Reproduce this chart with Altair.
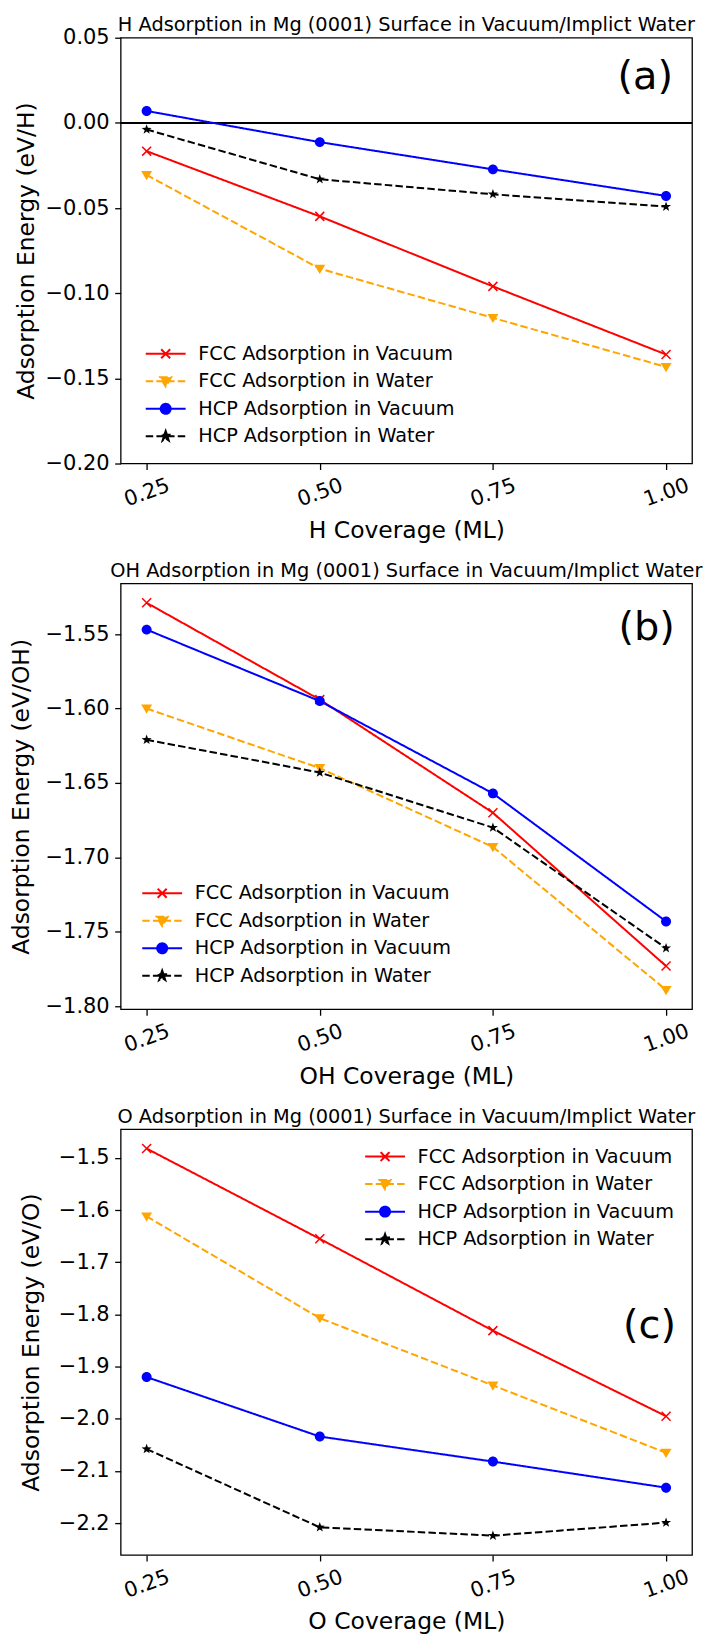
import math
import altair as alt
import pandas as pd

# ---------------- data ----------------
coverage = [0.25, 0.50, 0.75, 1.00]
series_names = [
    "FCC Adsorption in Vacuum",
    "FCC Adsorption in Water",
    "HCP Adsorption in Vacuum",
    "HCP Adsorption in Water",
]
series_colors = ["#ff0000", "#ffa500", "#0000ff", "#000000"]

# (a) H adsorption (eV/H)
h_fcc_vac = [-0.0166, -0.0549, -0.0960, -0.1360]
h_fcc_wat = [-0.0306, -0.0856, -0.1145, -0.1433]
h_hcp_vac = [0.0070, -0.0113, -0.0273, -0.0429]
h_hcp_wat = [-0.0039, -0.0331, -0.0419, -0.0492]

# (b) OH adsorption (eV/OH)
oh_fcc_vac = [-1.529, -1.594, -1.670, -1.773]
oh_fcc_wat = [-1.600, -1.640, -1.693, -1.789]
oh_hcp_vac = [-1.547, -1.595, -1.657, -1.743]
oh_hcp_wat = [-1.621, -1.643, -1.680, -1.761]

# (c) O adsorption (eV/O)
o_fcc_vac = [-1.482, -1.655, -1.831, -1.995]
o_fcc_wat = [-1.612, -1.807, -1.936, -2.065]
o_hcp_vac = [-1.920, -2.034, -2.082, -2.132]
o_hcp_wat = [-2.058, -2.208, -2.224, -2.199]

panel_titles = [
    "H Adsorption in Mg (0001) Surface in Vacuum/Implict Water",
    "OH Adsorption in Mg (0001) Surface in Vacuum/Implict Water",
    "O Adsorption in Mg (0001) Surface in Vacuum/Implict Water",
]
x_titles = ["H Coverage (ML)", "OH Coverage (ML)", "O Coverage (ML)"]
y_titles = ["Adsorption Energy (eV/H)", "Adsorption Energy (eV/OH)", "Adsorption Energy (eV/O)"]
panel_tags = ["(a)", "(b)", "(c)"]
tag_x = [0.970, 0.972, 0.976]
tag_y = [0.027, -1.546, -1.822]

y_ticks_a = [-0.20, -0.15, -0.10, -0.05, 0.00, 0.05]
y_ticks_b = [-1.80, -1.75, -1.70, -1.65, -1.60, -1.55]
y_ticks_c = [-2.2, -2.1, -2.0, -1.9, -1.8, -1.7, -1.6, -1.5]
x_ticks = [0.25, 0.50, 0.75, 1.00]

# ---------------- styles ----------------
FONT = "DejaVu Sans"
W, H = 573, 427
DASHED = [7.5, 3.2]
dash_list = [[1, 0], DASHED, [1, 0], DASHED]

X_PATH = "M-0.9,-0.9L0.9,0.9M-0.9,0.9L0.9,-0.9"
TRI_PATH = "M-1.1,-0.8L1.1,-0.8L0,1.05Z"
CIRC_PATH = "M1,0A1,1,0,1,1,-1,0A1,1,0,1,1,1,0Z"
pts = []
for k in range(10):
    r = 1.05 if k % 2 == 0 else 0.42
    a = math.radians(-90 + 36 * k)
    pts.append(f"{r*math.cos(a):.3f},{r*math.sin(a):.3f}")
STAR_PATH = "M" + "L".join(pts) + "Z"
marker_paths = [X_PATH, TRI_PATH, CIRC_PATH, STAR_PATH]
marker_filled = [False, True, True, True]
LINE_PATH = "M-4,0L4,0"
legend_paths = [LINE_PATH + p for p in marker_paths]


def xdomain():
    span = x_ticks[-1] - x_ticks[0]
    return [x_ticks[0] - 0.05 * span, x_ticks[-1] + 0.05 * span]


def auto_domain(vals):
    flat = [v for s in vals for v in s]
    lo, hi = min(flat), max(flat)
    m = 0.05 * (hi - lo)
    return [lo - m, hi + m]


def panel(vals, idx, ydom, yticks, yfmt, leg_x, leg_y, ytitle_x, title_dy, zero=False):
    rows = []
    for name, v in zip(series_names, vals):
        for c, e in zip(coverage, v):
            rows.append({"coverage": c, "energy": e, "series": name})
    df = pd.DataFrame(rows)

    x = alt.X(
        "coverage:Q",
        scale=alt.Scale(domain=xdomain(), nice=False, zero=False),
        axis=alt.Axis(
            values=x_ticks, format=".2f", title=x_titles[idx],
            labelAngle=340, labelAlign="center", labelBaseline="middle",
            labelPadding=23, titleY=74, titleBaseline="alphabetic",
        ),
    )
    y = alt.Y(
        "energy:Q",
        scale=alt.Scale(domain=ydom, nice=False, zero=False),
        axis=alt.Axis(
            values=yticks, format=yfmt, title=y_titles[idx],
            titleX=ytitle_x, titleBaseline="alphabetic",
        ),
    )
    base = alt.Chart(df)

    layers = []
    # legend-only layer (no data drawn; legend built from the scales)
    color_scale = alt.Scale(domain=series_names, range=series_colors)
    dash_scale = alt.Scale(domain=series_names, range=dash_list)
    leg = alt.Legend(
        orient="none", legendX=leg_x, legendY=leg_y, title=None,
        labelFontSize=19.3, labelFont=FONT, labelColor="black", labelLimit=500,
        symbolSize=100, symbolOffset=15, labelOffset=23, rowPadding=7.6,
        padding=0, symbolStrokeWidth=2, symbolOpacity=1,
    )
    layers.append(
        base.transform_filter("false")
        .mark_point(filled=True, size=100, opacity=1, strokeWidth=2)
        .encode(
            x=x, y=y,
            color=alt.Color("series:N", scale=color_scale, legend=leg),
            stroke=alt.Stroke("series:N", scale=color_scale, legend=leg),
            strokeDash=alt.StrokeDash("series:N", scale=dash_scale, legend=leg),
            shape=alt.Shape(
                "series:N",
                scale=alt.Scale(domain=series_names, range=legend_paths),
                legend=leg,
            ),
        )
    )
    if zero:
        layers.append(
            base.mark_rule(color="black", strokeWidth=1.5).encode(y=alt.datum(0))
        )
    for name, col, dash in zip(series_names, series_colors, dash_list):
        layers.append(
            base.transform_filter(alt.datum.series == name)
            .mark_line(strokeWidth=2, color=col, strokeDash=dash)
            .encode(x=x, y=y)
        )
    for name, col, path, filled in zip(series_names, series_colors, marker_paths, marker_filled):
        layers.append(
            base.transform_filter(alt.datum.series == name)
            .mark_point(shape=path, filled=filled, color=col, size=100, strokeWidth=1.5, opacity=1)
            .encode(x=x, y=y)
        )

    tag_df = pd.DataFrame({"coverage": [tag_x[idx]], "energy": [tag_y[idx]], "tag": [panel_tags[idx]]})
    layers.append(
        alt.Chart(tag_df)
        .mark_text(fontSize=40, font=FONT, align="center", baseline="middle", color="black")
        .encode(x=x, y=y, text="tag:N")
    )
    return alt.layer(*layers).properties(
        width=W, height=H, title=alt.TitleParams(text=panel_titles[idx], dy=title_dy)
    )


pa = panel([h_fcc_vac, h_fcc_wat, h_hcp_vac, h_hcp_wat], 0,
           [-0.20, 0.05], y_ticks_a, ".2f", 20.5, 307.3, -87.5, 18.5, zero=True)
pb_vals = [oh_fcc_vac, oh_fcc_wat, oh_hcp_vac, oh_hcp_wat]
pb = panel(pb_vals, 1, auto_domain(pb_vals), y_ticks_b, ".2f", 17, 301, -92, 7.5)
pc_vals = [o_fcc_vac, o_fcc_wat, o_hcp_vac, o_hcp_wat]
pc = panel(pc_vals, 2, auto_domain(pc_vals), y_ticks_c, ".1f", 240.5, 17.8, -82, 7.5)

chart = (
    alt.vconcat(pa, pb, pc, spacing=120.3, bounds="flush")
    .resolve_scale(color="independent", stroke="independent",
                   shape="independent", strokeDash="independent")
    .resolve_legend(color="independent", stroke="independent",
                    shape="independent", strokeDash="independent")
    .properties(padding={"left": 9, "top": 11.5, "right": 0, "bottom": 0})
    .configure(font=FONT, background="white")
    .configure_view(stroke="black", strokeWidth=1.3)
    .configure_axis(
        domain=False, grid=False, tickColor="black", tickWidth=1.3, tickSize=6,
        labelFontSize=21, labelColor="black", labelFont=FONT, labelPadding=5.5,
        titleFontSize=23.5, titleFontWeight="normal", titleColor="black", titleFont=FONT,
    )
    .configure_title(
        fontSize=19.4, fontWeight="normal", font=FONT, anchor="middle", frame="group",
        offset=9.5, baseline="alphabetic", color="black",
    )
)

chart.save("out.html", embed_options={"renderer": "svg", "actions": False})
